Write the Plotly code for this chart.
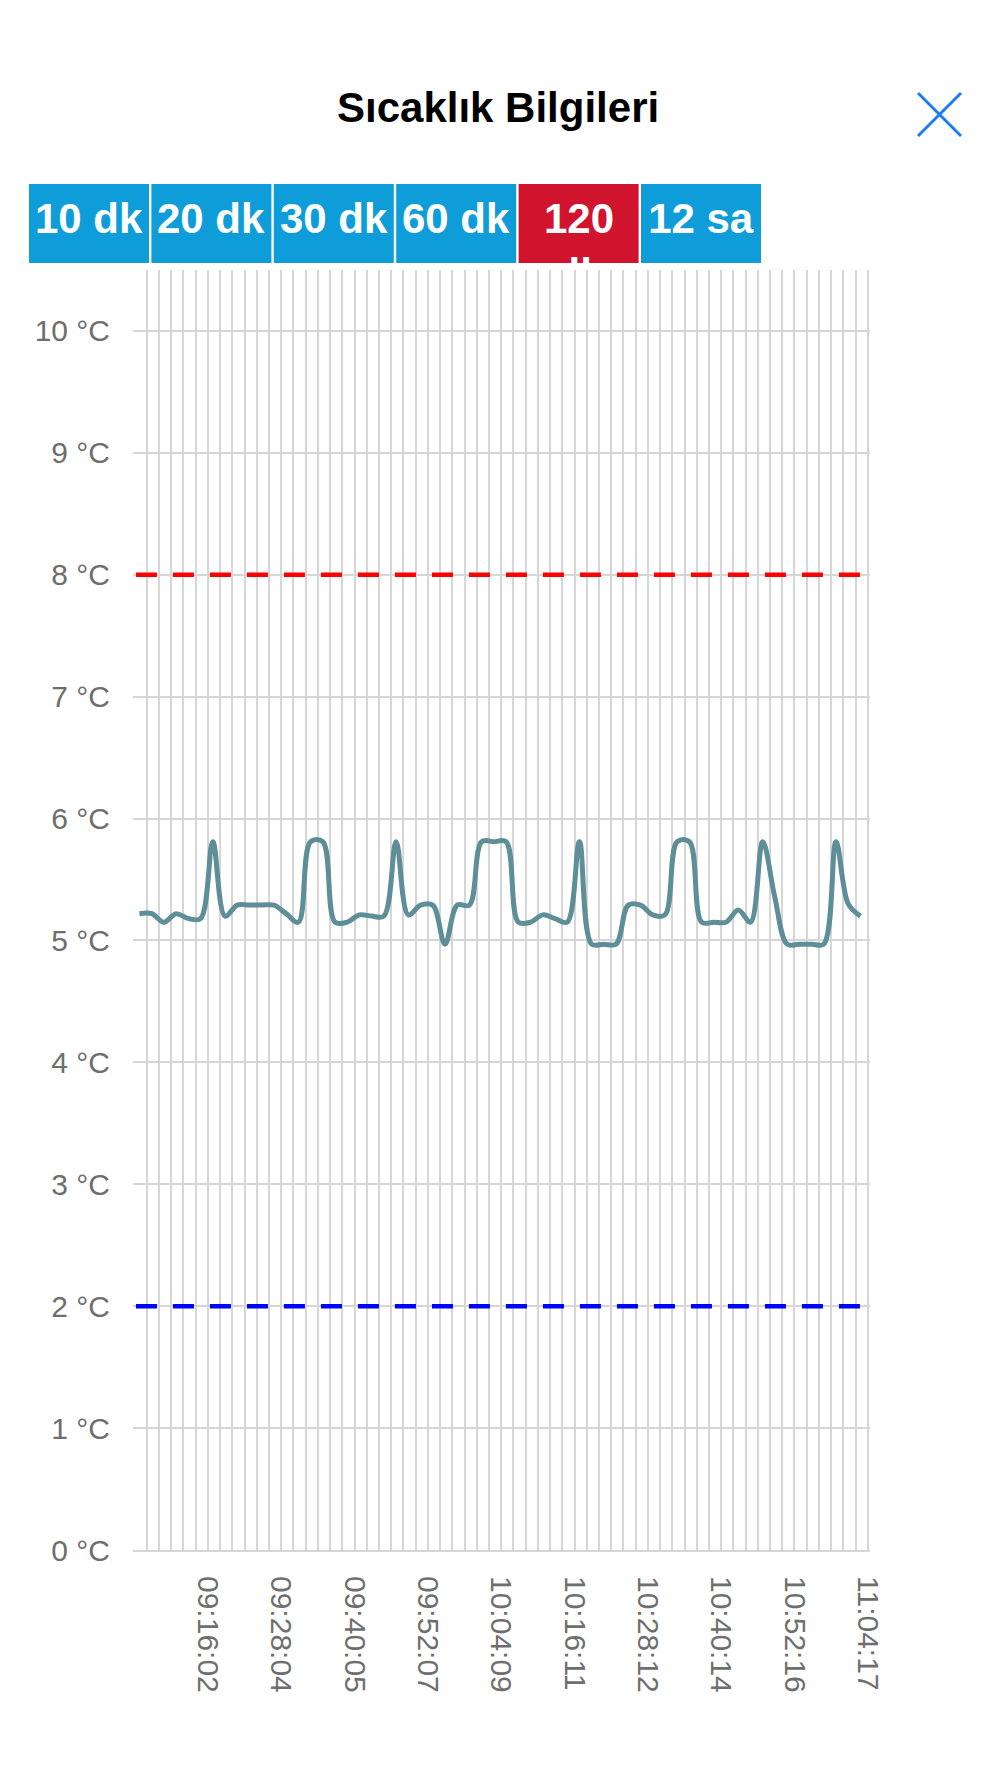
import plotly.graph_objects as go

# ---- data ----
temps = [5.22, 5.22, 5.15, 5.22, 5.18, 5.18, 5.81, 5.2, 5.29, 5.29,
         5.29, 5.29, 5.22, 5.15, 5.81, 5.81, 5.15, 5.15, 5.21, 5.2,
         5.2, 5.81, 5.21, 5.29, 5.29, 4.97, 5.29, 5.29, 5.81, 5.81,
         5.81, 5.15, 5.15, 5.21, 5.18, 5.15, 5.81, 4.97, 4.97, 4.97,
         5.29, 5.29, 5.21, 5.21, 5.81, 5.81, 5.15, 5.15, 5.15, 5.25,
         5.15, 5.81, 5.35, 4.97, 4.97, 4.97, 4.97, 5.81, 5.3, 5.2]
time_labels = ["09:16:02", "09:28:04", "09:40:05", "09:52:07", "10:04:09",
               "10:16:11", "10:28:12", "10:40:14", "10:52:16", "11:04:17"]
y_ticks = [0, 1, 2, 3, 4, 5, 6, 7, 8, 9, 10]
upper_limit = 8
lower_limit = 2
buttons = ["10 dk", "20 dk", "30 dk", "60 dk", "120<br>dk", "12 sa"]
active_button = 4
title_text = "Sıcaklık Bilgileri"

# ---- geometry helpers (layout pixels -> paper) ----
W, H = 1000, 1778
L, R, T, B = 133, 870, 270, 1550
def px(x):
    return (x - L) / (R - L)
def py(y):
    return (B - y) / (B - T)

n = len(temps)
xs = list(range(n))
grid_pos = [k + 0.6 for k in range(n)]
grid_text = [""] * n
for j, lab in enumerate(time_labels):
    grid_text[5 + 6 * j] = lab

FONT = "Liberation Sans, Arial, Helvetica, sans-serif"

fig = go.Figure()
fig.add_trace(go.Scatter(
    x=xs, y=temps, mode="lines",
    line=dict(color="#5E8E98", width=5, shape="spline", smoothing=1.0),
    hoverinfo="skip", showlegend=False))

shapes = []
for val, col in [(upper_limit, "#FF0000"), (lower_limit, "#0000FF")]:
    shapes.append(dict(type="line", xref="paper", yref="y", x0=0.004, x1=1, y0=val, y1=val,
                       line=dict(color=col, width=4.5, dash="21px,16px"), layer="above"))

annotations = []
for k, lab in enumerate(buttons):
    x0 = 29 + k * 122.4
    col = "#D0142E" if k == active_button else "#0E9DD8"
    shapes.append(dict(type="rect", xref="paper", yref="paper",
                       x0=px(x0), x1=px(x0 + 120), y0=py(263), y1=py(184),
                       fillcolor=col, line=dict(width=0), layer="above"))
    annotations.append(dict(text=lab, xref="paper", yref="paper", x=px(x0 + 60), y=py(195),
                            xanchor="center", yanchor="top", width=120, height=68,
                            valign="top", align="center", showarrow=False,
                            borderpad=0, borderwidth=0,
                            font=dict(family=FONT, size=42, color="white", weight="bold")))

annotations.append(dict(text="<b>" + title_text + "</b>", xref="paper", yref="paper",
                        x=px(497.5), y=py(84), xanchor="center", yanchor="top",
                        showarrow=False, borderpad=0, borderwidth=0,
                        font=dict(family=FONT, size=42, color="#000000")))

# close icon
for (a, b, c, d) in [(918, 93, 961, 136), (961, 93, 918, 136)]:
    shapes.append(dict(type="line", xref="paper", yref="paper",
                       x0=px(a), y0=py(b), x1=px(c), y1=py(d),
                       line=dict(color="#1E7CF2", width=3)))

fig.update_layout(
    width=W, height=H,
    margin=dict(l=L, r=W - R, t=T, b=H - B, pad=0),
    paper_bgcolor="white", plot_bgcolor="white",
    shapes=shapes, annotations=annotations,
    font=dict(family=FONT),
    xaxis=dict(range=[-0.53, 59.78], tickmode="array", tickvals=grid_pos, ticktext=grid_text,
               tickangle=90, showgrid=True, gridcolor="#D6D6D6", gridwidth=2,
               zeroline=False, showline=True, linecolor="#D6D6D6", linewidth=2,
               ticks="", ticklabelstandoff=18,
               tickfont=dict(family=FONT, size=30, color="#6E6E6E")),
    yaxis=dict(range=[0, 10.5], tickmode="array", tickvals=y_ticks,
               ticktext=[f"{v} °C" for v in y_ticks],
               showgrid=True, gridcolor="#D6D6D6", gridwidth=2, zeroline=False,
               showline=False, ticks="", ticklabelstandoff=22,
               tickfont=dict(family=FONT, size=30, color="#6E6E6E")),
)

fig.write_html("out.html", config={"displayModeBar": False},
               post_script="document.body.style.margin='0';document.body.style.overflow='hidden';")
